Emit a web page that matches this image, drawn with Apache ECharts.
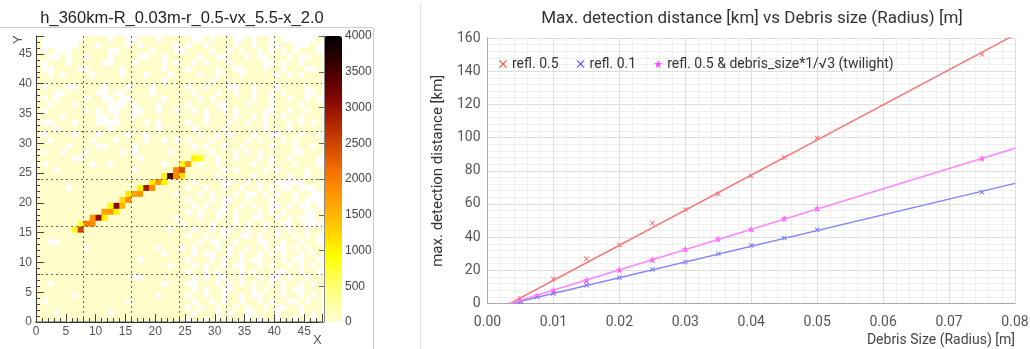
<!DOCTYPE html>
<html>
<head>
<meta charset="utf-8">
<title>hist + detection distance</title>
<script src="https://cdn.jsdelivr.net/npm/echarts@6/dist/echarts.min.js"></script>
</head>
<body style="margin:0">
<div id="main" style="width:1030px;height:349px"></div>
<script>
var histTitle = 'h_360km-R_0.03m-r_0.5-vx_5.5-x_2.0';
// background bins, rows y=47 down to y=0 ; '.' = empty bin, anything else = low count bin
var bgRows = [
  'a.......aaaa.aa..aaa.aaa' + 'aa..a.aaa..a.aa.a......a',
  'a......aaa.aaaa.a.aaaaa.' + 'a.aa.aaaa.aa.aa..aa...a.',
  'a.a...aaaaaa..aaaaa.aaa.' + '.aaaa.aa.a.aa.a.a.a.aaa.',
  'aa..a.aa.aaa.aaaa..aa.aa' + 'aaa.aa..aaa.a..aaa.a..aa',
  'a.aaa.aaaaa..aaa.aaaa.a.' + 'aa.a.aaa.aaaaa..a.aa.aaa',
  'a..aaaa..aaaaa.aaaaaa.aa' + 'a.aaaa.aa..aaa.aa.aaa..a',
  'aa.a.aaaa.aaaa.aaa.aaa.a' + 'aaa.aa.aaa.aaaaa.a.a.aaa',
  'aaaaaaaaaaaaaaaaaaaaa.aa' + 'aaaaa.aaaaaaaaaaaaaaaaaa',
  'a.aaa..aaaa.aaa.aaa.aaaa' + 'a.aa.aaa..aa.aaa.aaaa.aa',
  'aaa..aaaaa..a..aaaa.aaaa' + 'aa.aaa.aa.aa.aa.a.aaa..a',
  'a.a.aaaa.aa..a..aaaaa.aa' + 'aaa.a.aaaaaa.aa.aa.aa.a.',
  'aa.aaa.aaaaa...a.aaa.aaa' + 'a.aaaa..aaa.aaa.aaaa.aaa',
  'a.aaaaaa.a.a..aa..aa.aa.' + 'aa.a.aa.a.aaaa..aa.aa.aa',
  'aaaa.aaaaa..a.aa.aaaaaaa' + 'aaaa.aaaa.aa.a.aa.aa.aaa',
  'a..aaa.aaa....aaaa.a.aaa' + 'a.aa.aaa.aa.aa.aaa.a.a.a',
  'aaa.aaaaaaaa.aaaaaaa.aaa' + 'aa.aaaa.aaaaaa.aaa.aaaaa',
  'a.aaaa.aaa.aaaa.aa.aaaaa' + 'aaa.aa.a.aaa.aa..aaa.aa.',
  'aa.aaaaaa.aaa.aaaa.aa.a.' + 'a.aaa.aaaaa.a.aaa.a.aaaa',
  'aaaaa.aaaa..aaaa.aaaaaaa' + 'aa.a.aa.aa.aaaa.aaa.aa.a',
  'a.aa.aaa.aaaaa.a.aaaaa.a' + 'aaaaa.aaa.a.a.aaaaa..aaa',
  'aaaaaa..aaaaaaaaa.aaaaaa' + 'aa.aaa.aa.aaa.a.aa.aaaa.',
  'a.aaaaaaa.aa.aaaaaaaa.aa' + 'aaa.aa.aaaaa.aa.aaa.aaa.',
  'aaa.aaaaaaaaaaaa.aaaaaaa' + 'aaaaaaa.a.aaaa.a.aaaa.aa',
  'aaaaaaaaaaaaaaaaaaaaaaaa' + 'aaaaaa.aaaaa.aaaaa.aa.aa',
  'aaaaaaaaaaaaaaaaaaaaaaaa' + 'aa.aaaa..aa.a.aa.....aaa',
  'aaaaa.aaaaaaaaaaaaaaaaaa' + 'a.aa.aa.aa.aa.a.a..a...a',
  'aaaaaaaaaaaaaaaaaaaaaaa.' + 'aaa.a.aaa.a..a.a.aa.aa..',
  'aaaaaaaaaaaaaaaaaaaaaaaa' + 'a.aaa.a..aa.aaa.aaa.a...',
  'aaaaaaaaaaaaaaaaaaaaaaaa' + 'aa.a.aa.aa.a.aa..a.a..a.',
  'aaaaaaaaaaaaaaaaaaaaaaaa' + 'a.a.aa..a.aaa.a.a.aaa..a',
  'aaaaaaaaaaaaaaaaaaaaaaa.' + 'aaa.aa.aa.aa..aa.a.a...a',
  'aaaaaaaaaaaaaaaaaaaaaaaa' + '.aaaa.aaa.a.aa.aa..aa...',
  'aaaaaaaaaaaaaaaaaaaaaa.a' + 'aa.aa.a..aa.aa.a.a.aa.aa',
  'aaaaaaaaaaaaaaaaaaaaaaaa' + 'a.aa.aa.aa..a.aa.aa.a.a.',
  'aa..aaaaaaaaaaaaaaaaaaaa' + 'aaa.a..aa.aaa..aa.aa.aa.',
  'aaaaaaaa.aaaaaaaaaaa.aaa' + '.a.aaa.a.aa.aa.a..a.a.aa',
  'aaaaaaaaaaaaaaaaaaaaa.aa' + 'aa.a..aa.a.aa.a.a.aa.a.a',
  'aaaaaaaaaaaaaaaaa.aaaaaa' + 'a.aaa.a.aa.a..aaa.a..aa.',
  'aaaaaaaaaaaaaaaaaaaaaa.a' + 'aa.a.aa.a..aa.a.aa.a.a.a',
  'aaaaaaaaaaaaaaaaaaaaaaaa' + 'a.aa.a.aaa.a.aaa..aa.aa.',
  'aaaaaaaaaaaaaaaa..aaaaaa' + 'aa.a.a..aa.aa.a..a.aa.aa',
  'aa.aaaaaaaaaaaaaaaaaa.aa' + 'a..aaa.a.a.a.aa.a.aa.a.a',
  'aaaaaaaaaaaaaaaaaaaaaaaa' + 'aa.a.aa..aaa.a.aa.a..aaa',
  'aaaaaa.aaaaaaaaaaaaa.aaa' + 'a.aa.aa.aa.a..aaa.aa.a.a',
  'a.aaaaaaaaaaaaa.aaaaaaaa' + 'aa.aa.a.aa.aa.a.aa..a.aa',
  'aaaaaaaaaaaaaaaaaaaaaaaa' + 'a.a.aa.aa.a.aa.a..aa.aaa',
  'aaa.aaaaaaaa.aaaaaaaaaaa' + 'aa.aaa.a.aa..aaa.aaa.a.a',
  'aaaaaaaaaaaaaaaaaaaaaaaa' + 'a.aa.a.aaaa.a.aa.aa.aa.a'
];
var bgCount = 40;
// bins on the track [x, y, count]
var trackBins = [
  [6,15,800],[7,15,2500],[7,16,700],[8,16,2000],[9,16,1900],
  [9,17,1800],[10,17,3000],[11,17,1000],[11,18,1700],[12,18,1700],
  [13,18,1000],[12,19,900],[13,19,3100],[14,19,1500],[14,20,1200],
  [15,20,1900],[15,21,1100],[16,21,1700],[17,21,1800],[17,22,1000],
  [18,22,2900],[19,22,1900],[19,23,1100],[20,23,1800],[21,23,1000],
  [21,24,1000],[22,24,3400],[23,24,1900],[24,24,1200],[23,25,1900],
  [24,25,2400],[24,26,1000],[25,26,1700],[26,27,1000],[27,27,900]
];
var paletteColors = ['#fffdd0','#ffff9a','#ffff55','#ffff00','#ffd700','#ffb000','#ff9000',
  '#f06c00','#d04800','#b02800','#8b0a00','#5a0000','#2a0000','#000000'];

var plotTitle = 'Max. detection distance [km] vs Debris size (Radius) [m]';
var sizeRed = [0.005, 0.01, 0.015, 0.02, 0.025, 0.03, 0.035, 0.04, 0.045, 0.05, 0.075];
var refl05 = [3, 14.7, 27, 35.3, 48.5, 56.5, 66, 77, 88, 99.7, 150];
var sizeAll = [0.005, 0.0075, 0.01, 0.015, 0.02, 0.025, 0.03, 0.035, 0.04, 0.045, 0.05, 0.075];
var refl01 = [1, 4, 6, 11, 15.5, 20.5, 25, 30, 35, 39.5, 44.5, 67];
var twilight = [2, 4.7, 8, 14, 20.3, 26.4, 32.7, 38.8, 44.8, 51.2, 57.3, 87.5];
// fitted lines, end points
var fitRed = [[0.0034, 0], [0.08, 162]];
var fitBlue = [[0.0036, 0], [0.08, 72.4]];
var fitPink = [[0.0034, 0], [0.08, 93.6]];

var bins = {};
bgRows.forEach(function (row, i) {
  var y = 47 - i;
  for (var x = 0; x < 48; x++) {
    if (row.charAt(x) !== '.') bins[x + ',' + y] = [x, y, bgCount];
  }
});
trackBins.forEach(function (b) { bins[b[0] + ',' + b[1]] = b; });
var heatData = Object.keys(bins).map(function (k) { return bins[k]; });

function pairs(xs, ys) {
  return xs.map(function (x, i) { return [x, ys[i]]; });
}

var crossPath = 'path://M1,0L5,4L9,0L10,1L6,5L10,9L9,10L5,6L1,10L0,9L4,5L0,1Z';
var starPath = 'path://M5,0L6.2,3.6L10,3.8L7,6.1L8.1,10L5,7.8L1.9,10L3,6.1L0,3.8L3.8,3.6Z';
var rootFont = 'Liberation Sans';
var dotted = { show: true, lineStyle: { color: '#666', type: [2, 3], width: 1 }, showMinLine: false, showMaxLine: false };

var chart = echarts.init(document.getElementById('main'));
var option = {
  animation: false,
  backgroundColor: '#fff',
  textStyle: { fontFamily: 'Roboto' },
  title: [
    { text: histTitle, left: 182, top: 10, textAlign: 'center', padding: 0,
      textStyle: { fontFamily: rootFont, fontSize: 16.5, fontWeight: 'normal', color: '#222' } },
    { text: plotTitle, left: 752, top: 10, textAlign: 'center', padding: 0,
      textStyle: { fontFamily: 'Roboto', fontSize: 17, fontWeight: 'normal', color: '#333' } }
  ],
  grid: [
    { left: 36, top: 36, width: 286, height: 286, outerBoundsMode: 'none' },
    { left: 324, top: 36, width: 18, height: 286, outerBoundsMode: 'none' },
    { left: 487.5, top: 38, right: 15, bottom: 45.5, outerBoundsMode: 'none' }
  ],
  visualMap: {
    type: 'continuous', min: 0, max: 4000, seriesIndex: 0, dimension: 2,
    left: 324, top: 36, itemWidth: 18, itemHeight: 286, padding: 0,
    text: ['', ''], calculable: false, hoverLink: false,
    inRange: { color: paletteColors }
  },
  legend: {
    data: ['refl. 0.5', 'refl. 0.1', 'refl. 0.5 & debris_size*1/\u221a3 (twilight)'],
    left: 494, top: 52, itemWidth: 8, itemHeight: 8, itemGap: 18,
    textStyle: { fontSize: 14, color: '#333', fontFamily: 'Roboto' }
  },
  xAxis: [
    { gridIndex: 0, type: 'value', min: 0, max: 48, interval: 5, position: 'bottom', z: 6,
      axisLine: { show: true, lineStyle: { color: '#333' } },
      axisTick: { show: true, inside: true, length: 8, lineStyle: { color: '#444' } },
      minorTick: { show: true, splitNumber: 5, length: 4, lineStyle: { color: '#444' } },
      axisLabel: { fontFamily: rootFont, fontSize: 12, color: '#555', margin: 4,
        showMaxLabel: false },
      splitLine: { show: false } },
    { gridIndex: 0, type: 'value', min: 0, max: 48, interval: 8, position: 'top', z: 5,
      axisLine: { show: true, lineStyle: { color: '#aaa', width: 2, type: [30, 4] } },
      axisTick: { show: false }, axisLabel: { show: false }, splitLine: dotted },
    { gridIndex: 1, type: 'value', min: 0, max: 1, show: false },
    { gridIndex: 2, type: 'value', min: 0, max: 0.08, interval: 0.01,
      name: 'Debris Size (Radius) [m]', nameLocation: 'end', nameGap: 0,
      nameTextStyle: { fontSize: 14, color: '#444', align: 'right', verticalAlign: 'top',
        padding: [30, 0, 0, 0] },
      axisLine: { show: true, lineStyle: { color: '#aaa' } },
      axisTick: { show: false },
      axisLabel: { fontSize: 14, color: '#555', margin: 12,
        formatter: function (v) { return v.toFixed(2); } },
      splitLine: { show: true, lineStyle: { color: '#ddd' } },
      minorTick: { show: false, splitNumber: 5 },
      minorSplitLine: { show: true, lineStyle: { color: '#efefef' } } }
  ],
  yAxis: [
    { gridIndex: 0, type: 'value', min: 0, max: 48, interval: 5, position: 'left', z: 6,
      axisLine: { show: true, lineStyle: { color: '#333' } },
      axisTick: { show: true, inside: true, length: 8, lineStyle: { color: '#444' } },
      minorTick: { show: true, splitNumber: 5, length: 4, lineStyle: { color: '#444' } },
      axisLabel: { fontFamily: rootFont, fontSize: 12, color: '#555', margin: 4,
        showMaxLabel: false },
      splitLine: { show: false } },
    { gridIndex: 0, type: 'value', min: 0, max: 48, interval: 8, position: 'right', z: 5,
      axisLine: { show: true, lineStyle: { color: '#888' } },
      axisTick: { show: false }, axisLabel: { show: false }, splitLine: dotted },
    { gridIndex: 1, type: 'value', min: 0, max: 4000, interval: 500, position: 'right', z: 6,
      axisLine: { show: true, lineStyle: { color: '#888' } },
      axisTick: { show: true, inside: true, length: 5, lineStyle: { color: '#666' } },
      axisLabel: { fontFamily: rootFont, fontSize: 12, color: '#444', margin: 3,
        formatter: function (v) { return String(v); } },
      splitLine: { show: false } },
    { gridIndex: 2, type: 'value', min: 0, max: 160, interval: 20,
      name: 'max. detection distance [km]', nameLocation: 'middle', nameGap: 38,
      nameTextStyle: { fontSize: 15, color: '#333' },
      axisLine: { show: true, lineStyle: { color: '#aaa' } },
      axisTick: { show: false },
      axisLabel: { fontSize: 14, color: '#555', margin: 7 },
      splitLine: { show: true, lineStyle: { color: '#ddd' } },
      minorTick: { show: false, splitNumber: 5 },
      minorSplitLine: { show: true, lineStyle: { color: '#efefef' } } }
  ],
  series: [
    { type: 'custom', xAxisIndex: 0, yAxisIndex: 0, data: heatData,
      encode: { x: 0, y: 1 },
      renderItem: function (params, api) {
        var p0 = api.coord([api.value(0), api.value(1) + 1]);
        var p1 = api.coord([api.value(0) + 1, api.value(1)]);
        return { type: 'rect',
          shape: { x: p0[0], y: p0[1], width: p1[0] - p0[0] + 0.4, height: p1[1] - p0[1] + 0.4 },
          style: { fill: api.visual('color') } };
      } },
    { type: 'line', name: 'fit05', xAxisIndex: 3, yAxisIndex: 3, data: fitRed, symbol: 'none',
      lineStyle: { color: '#f37b7b', width: 1.5 }, silent: true },
    { type: 'line', name: 'fit01', xAxisIndex: 3, yAxisIndex: 3, data: fitBlue, symbol: 'none',
      lineStyle: { color: '#8585f5', width: 1.5 }, silent: true },
    { type: 'line', name: 'fitTw', xAxisIndex: 3, yAxisIndex: 3, data: fitPink, symbol: 'none',
      lineStyle: { color: '#ff85ff', width: 1.5 }, silent: true },
    { type: 'scatter', name: 'refl. 0.5', xAxisIndex: 3, yAxisIndex: 3,
      data: pairs(sizeRed, refl05), symbol: crossPath, symbolSize: 5,
      itemStyle: { color: '#ff2222' } },
    { type: 'scatter', name: 'refl. 0.1', xAxisIndex: 3, yAxisIndex: 3,
      data: pairs(sizeAll, refl01), symbol: crossPath, symbolSize: 5,
      itemStyle: { color: '#2a2aff' } },
    { type: 'scatter', name: 'refl. 0.5 & debris_size*1/\u221a3 (twilight)', xAxisIndex: 3, yAxisIndex: 3,
      data: pairs(sizeAll, twilight), symbol: starPath, symbolSize: 7,
      itemStyle: { color: '#ff22ff' } }
  ],
  graphic: [
    { type: 'line', shape: { x1: 0, y1: 27.5, x2: 373, y2: 27.5 }, style: { stroke: '#ccc', lineWidth: 1 } },
    { type: 'line', shape: { x1: 373.5, y1: 27.5, x2: 373.5, y2: 349 }, style: { stroke: '#ccc', lineWidth: 1 } },
    { type: 'line', shape: { x1: 420.5, y1: 4, x2: 420.5, y2: 349 }, style: { stroke: '#ddd', lineWidth: 1 } },
    { type: 'text', left: 313, top: 334, style: { text: 'X', fontFamily: rootFont, fontSize: 13, fill: '#555' } },
    { type: 'text', x: 12, y: 44, rotation: Math.PI / 2, style: { text: 'Y', fontFamily: rootFont, fontSize: 13, fill: '#555' } }
  ]
};
chart.setOption(option);
</script>
</body>
</html>
